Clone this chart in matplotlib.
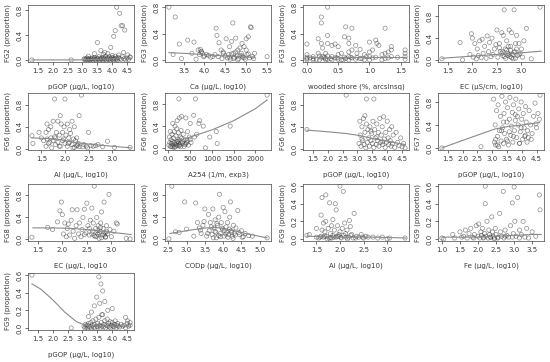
import numpy as np
import matplotlib.pyplot as plt

# ---- panel data ----
x1 = [1.30, 2.62,
      3.05, 3.08, 3.10, 3.12, 3.15, 3.18, 3.20, 3.22, 3.25, 3.28,
      3.30, 3.33, 3.35, 3.38, 3.40, 3.42, 3.45, 3.48, 3.50, 3.52,
      3.55, 3.58, 3.60, 3.63, 3.65, 3.68, 3.70, 3.72, 3.75, 3.78,
      3.80, 3.83, 3.85, 3.88, 3.90, 3.93, 3.95, 3.98, 4.00, 4.03,
      4.05, 4.08, 4.10, 4.13, 4.15, 4.18, 4.20, 4.25, 4.30, 4.35,
      4.40, 4.45, 4.50, 4.55, 4.60,
      3.50, 3.62, 3.75, 3.95, 4.05, 4.10, 4.15, 4.25, 4.30, 4.35,
      4.42, 3.85, 4.22, 4.38, 4.52, 4.60, 3.70, 4.00, 3.40, 3.20]
y1 = [0.00, 0.00,
      0.01, 0.02, 0.00, 0.01, 0.03, 0.00, 0.02, 0.01, 0.00, 0.02,
      0.01, 0.03, 0.00, 0.02, 0.04, 0.01, 0.00, 0.03, 0.02, 0.01,
      0.05, 0.00, 0.02, 0.01, 0.03, 0.00, 0.04, 0.02, 0.01, 0.06,
      0.00, 0.02, 0.03, 0.01, 0.05, 0.00, 0.02, 0.04, 0.01, 0.03,
      0.00, 0.02, 0.06, 0.01, 0.03, 0.00, 0.04, 0.02, 0.01, 0.05,
      0.02, 0.00, 0.03, 0.01, 0.04,
      0.28, 0.15, 0.12, 0.20, 0.38, 0.47, 0.85, 0.75, 0.55, 0.55,
      0.48, 0.10, 0.08, 0.12, 0.08, 0.05, 0.09, 0.07, 0.10, 0.06]
fit1_x = [1.3, 2.0, 3.0, 3.5, 4.0, 4.3, 4.6]
fit1_y = [0.0, 0.0, 0.0, 0.01, 0.02, 0.03, 0.03]

x2 = [3.15, 3.30, 3.25, 3.40, 3.45, 3.60, 3.75, 3.70, 3.80, 3.85,
      3.90, 3.92, 3.95, 3.98, 4.00, 4.05, 4.10, 4.15, 4.20, 4.25,
      4.28, 4.30, 4.33, 4.35, 4.40, 4.42, 4.45, 4.50, 4.52, 4.55,
      4.58, 4.60, 4.62, 4.65, 4.68, 4.70, 4.72, 4.75, 4.78, 4.80,
      4.82, 4.85, 4.88, 4.90, 4.92, 4.95, 4.98, 5.00, 5.02, 5.05,
      5.08, 5.10, 5.12, 5.15, 5.18, 5.20, 5.50, 4.75, 4.85, 4.95,
      5.00, 5.05, 4.60, 4.70, 4.80, 4.90, 3.88, 3.93, 4.45, 4.65]
y2 = [0.80, 0.65, 0.08, 0.24, 0.02, 0.30, 0.27, 0.10, 0.01, 0.15,
      0.16, 0.12, 0.10, 0.05, 0.06, 0.08, 0.07, 0.04, 0.05, 0.08,
      0.48, 0.37, 0.05, 0.26, 0.15, 0.02, 0.10, 0.06, 0.32, 0.03,
      0.08, 0.20, 0.01, 0.28, 0.56, 0.10, 0.04, 0.33, 0.06, 0.15,
      0.02, 0.07, 0.10, 0.25, 0.04, 0.20, 0.01, 0.32, 0.08, 0.35,
      0.03, 0.50, 0.49, 0.05, 0.02, 0.10, 0.05, 0.12, 0.18, 0.03,
      0.15, 0.09, 0.04, 0.02, 0.00, 0.06, 0.08, 0.13, 0.12, 0.09]
fit2_x = [3.15, 3.5, 4.0, 4.5, 5.0, 5.2]
fit2_y = [0.11, 0.10, 0.08, 0.06, 0.04, 0.04]

x3 = [0.00, 0.00, 0.00, 0.00, 0.00, 0.10, 0.10, 0.10, 0.18, 0.18,
      0.20, 0.20, 0.23, 0.23, 0.23, 0.23, 0.25, 0.25, 0.30, 0.30,
      0.30, 0.33, 0.33, 0.33, 0.33, 0.33, 0.40, 0.40, 0.40, 0.45,
      0.45, 0.50, 0.50, 0.50, 0.55, 0.55, 0.60, 0.60, 0.62, 0.62,
      0.67, 0.67, 0.67, 0.67, 0.67, 0.72, 0.72, 0.72, 0.78, 0.78,
      0.80, 0.80, 0.85, 0.85, 0.92, 0.92, 0.95, 1.00, 1.00, 1.00,
      1.00, 1.05, 1.05, 1.10, 1.10, 1.12, 1.15, 1.20, 1.20, 1.25,
      1.25, 1.25, 1.30, 1.30, 1.35, 1.35, 1.35, 1.45, 1.57, 1.57,
      1.57, 1.57, 0.05, 0.15, 0.28, 0.38, 0.48, 0.58, 0.70, 0.88]
y3 = [0.24, 0.08, 0.04, 0.02, 0.00, 0.05, 0.02, 0.00, 0.32, 0.10,
      0.06, 0.00, 0.65, 0.56, 0.25, 0.03, 0.18, 0.05, 0.10, 0.02,
      0.00, 0.80, 0.37, 0.25, 0.06, 0.01, 0.22, 0.05, 0.00, 0.24,
      0.03, 0.20, 0.08, 0.01, 0.10, 0.00, 0.35, 0.04, 0.50, 0.02,
      0.33, 0.25, 0.12, 0.05, 0.00, 0.48, 0.15, 0.03, 0.22, 0.01,
      0.10, 0.04, 0.16, 0.02, 0.08, 0.00, 0.05, 0.27, 0.12, 0.05,
      0.00, 0.15, 0.03, 0.30, 0.04, 0.25, 0.22, 0.08, 0.00, 0.48,
      0.10, 0.02, 0.12, 0.03, 0.20, 0.15, 0.05, 0.04, 0.15, 0.10,
      0.05, 0.01, 0.03, 0.01, 0.04, 0.02, 0.03, 0.00, 0.04, 0.02]
fit3_x = [0.0, 0.5, 1.0, 1.57]
fit3_y = [0.05, 0.05, 0.05, 0.05]

x4 = [1.38, 1.75, 1.80, 1.95, 1.98, 2.00, 2.02, 2.05, 2.08, 2.10,
      2.12, 2.15, 2.18, 2.20, 2.22, 2.25, 2.28, 2.30, 2.33, 2.35,
      2.38, 2.40, 2.42, 2.45, 2.48, 2.50, 2.52, 2.55, 2.57, 2.60,
      2.62, 2.63, 2.65, 2.67, 2.68, 2.70, 2.72, 2.73, 2.75, 2.77,
      2.78, 2.80, 2.82, 2.83, 2.85, 2.87, 2.88, 2.90, 2.92, 2.95,
      2.97, 3.00, 3.02, 3.05, 3.10, 3.20, 3.38, 2.60, 2.65, 2.70,
      2.75, 2.80, 2.85, 2.90, 2.55, 2.62, 2.72, 2.78, 2.88, 2.95]
y4 = [0.02, 0.32, 0.00, 0.10, 0.48, 0.40, 0.05, 0.30, 0.02, 0.20,
      0.08, 0.35, 0.04, 0.38, 0.12, 0.25, 0.03, 0.44, 0.15, 0.32,
      0.06, 0.40, 0.10, 0.20, 0.28, 0.55, 0.05, 0.30, 0.15, 0.50,
      0.08, 0.45, 0.92, 0.20, 0.03, 0.35, 0.12, 0.25, 0.55, 0.06,
      0.18, 0.50, 0.10, 0.02, 0.92, 0.15, 0.30, 0.45, 0.08, 0.30,
      0.12, 0.20, 0.05, 0.35, 0.58, 0.02, 0.97, 0.12, 0.06, 0.18,
      0.10, 0.04, 0.14, 0.20, 0.22, 0.15, 0.08, 0.25, 0.03, 0.10]
fit4_x = [1.38, 2.0, 2.5, 3.0, 3.4]
fit4_y = [0.03, 0.07, 0.10, 0.13, 0.16]

x5 = [1.30, 1.32, 1.45, 1.50, 1.55, 1.60, 1.60, 1.62, 1.62, 1.65,
      1.65, 1.70, 1.70, 1.72, 1.75, 1.75, 1.78, 1.80, 1.80, 1.82,
      1.85, 1.85, 1.88, 1.90, 1.90, 1.92, 1.95, 1.95, 1.98, 2.00,
      2.00, 2.02, 2.05, 2.05, 2.08, 2.10, 2.10, 2.12, 2.15, 2.15,
      2.18, 2.20, 2.20, 2.22, 2.25, 2.25, 2.28, 2.30, 2.30, 2.35,
      2.40, 2.45, 2.50, 2.55, 2.60, 2.70, 2.80, 2.90, 3.05, 3.38,
      1.68, 1.78, 1.88, 1.97, 2.07, 2.17, 2.27, 2.38, 2.48, 2.65]
y5 = [0.24, 0.10, 0.30, 0.20, 0.15, 0.30, 0.05, 0.45, 0.18, 0.35,
      0.10, 0.40, 0.20, 0.02, 0.50, 0.15, 0.90, 0.20, 0.08, 0.30,
      0.50, 0.12, 0.25, 0.60, 0.05, 0.45, 0.30, 0.15, 0.40, 0.90,
      0.10, 0.25, 0.45, 0.05, 0.20, 0.35, 0.12, 0.28, 0.50, 0.08,
      0.18, 0.40, 0.03, 0.15, 0.20, 0.06, 0.10, 0.60, 0.04, 0.97,
      0.08, 0.05, 0.30, 0.06, 0.05, 0.08, 0.04, 0.14, 0.03, 0.03,
      0.12, 0.22, 0.05, 0.18, 0.10, 0.02, 0.07, 0.04, 0.02, 0.06]
fit5_x = [1.3, 1.6, 1.9, 2.2, 2.6, 3.0, 3.4]
fit5_y = [0.20, 0.19, 0.17, 0.12, 0.08, 0.05, 0.02]

x6 = [10, 20, 30, 40, 50, 60, 70, 80, 90, 100,
      110, 120, 130, 140, 150, 160, 170, 180, 190, 200,
      210, 220, 230, 240, 250, 260, 270, 280, 290, 300,
      320, 340, 360, 380, 400, 420, 440, 460, 480, 500,
      100, 150, 200, 250, 300, 400, 500, 580, 600, 620,
      700, 720, 800, 850, 950, 1100, 1120, 1420, 2270, 240,
      60, 130, 180, 230, 280, 330, 380, 430, 520, 650]
y6 = [0.05, 0.20, 0.10, 0.30, 0.02, 0.15, 0.08, 0.25, 0.12, 0.45,
      0.05, 0.18, 0.30, 0.10, 0.40, 0.02, 0.22, 0.08, 0.35, 0.50,
      0.12, 0.04, 0.28, 0.15, 0.55, 0.06, 0.20, 0.10, 0.32, 0.58,
      0.08, 0.25, 0.03, 0.15, 0.55, 0.10, 0.30, 0.05, 0.20, 0.45,
      0.02, 0.07, 0.12, 0.04, 0.18, 0.08, 0.15, 0.60, 0.20, 0.90,
      0.45, 0.50, 0.40, 0.00, 0.20, 0.30, 0.08, 0.40, 0.97, 0.90,
      0.03, 0.01, 0.05, 0.09, 0.02, 0.11, 0.06, 0.13, 0.10, 0.25]
fit6_x = [20, 500, 1000, 1500, 2000, 2270]
fit6_y = [0.08, 0.20, 0.33, 0.50, 0.72, 0.88]

x7 = [1.30, 2.62, 3.30, 3.55,
      3.05, 3.08, 3.10, 3.12, 3.15, 3.18, 3.20, 3.22, 3.25, 3.28,
      3.30, 3.33, 3.35, 3.38, 3.40, 3.42, 3.45, 3.48, 3.50, 3.52,
      3.55, 3.58, 3.60, 3.63, 3.65, 3.68, 3.70, 3.72, 3.75, 3.78,
      3.80, 3.83, 3.85, 3.88, 3.90, 3.93, 3.95, 3.98, 4.00, 4.03,
      4.05, 4.08, 4.10, 4.13, 4.15, 4.18, 4.20, 4.25, 4.30, 4.35,
      4.40, 4.45, 4.50, 4.55, 4.60, 3.15, 3.25, 3.45, 3.65, 3.85]
y7 = [0.35, 0.97, 0.90, 0.90,
      0.10, 0.50, 0.25, 0.05, 0.40, 0.15, 0.55, 0.08, 0.30, 0.02,
      0.45, 0.12, 0.35, 0.20, 0.05, 0.40, 0.15, 0.28, 0.10, 0.50,
      0.03, 0.35, 0.20, 0.08, 0.45, 0.15, 0.30, 0.05, 0.55, 0.12,
      0.25, 0.40, 0.08, 0.58, 0.18, 0.03, 0.30, 0.12, 0.50, 0.20,
      0.08, 0.35, 0.15, 0.05, 0.40, 0.10, 0.25, 0.03, 0.30, 0.12,
      0.06, 0.20, 0.04, 0.10, 0.02, 0.18, 0.60, 0.32, 0.22, 0.13]
fit7_x = [1.3, 2.0, 2.6, 3.1, 3.5, 4.0, 4.6]
fit7_y = [0.34, 0.31, 0.28, 0.24, 0.19, 0.14, 0.08]

x8 = [1.30, 2.62,
      3.05, 3.08, 3.10, 3.12, 3.15, 3.18, 3.20, 3.22, 3.25, 3.28,
      3.30, 3.33, 3.35, 3.38, 3.40, 3.42, 3.45, 3.48, 3.50, 3.52,
      3.55, 3.58, 3.60, 3.63, 3.65, 3.68, 3.70, 3.72, 3.75, 3.78,
      3.80, 3.83, 3.85, 3.88, 3.90, 3.93, 3.95, 3.98, 4.00, 4.03,
      4.05, 4.08, 4.10, 4.13, 4.15, 4.18, 4.20, 4.25, 4.30, 4.35,
      4.40, 4.45, 4.50, 4.55, 4.60, 3.12, 3.32, 3.52, 3.72, 3.92,
      4.12, 4.32, 3.18, 3.38, 3.58, 3.78, 3.98, 4.22, 4.48, 4.62]
y8 = [0.00, 0.02,
      0.85, 0.10, 0.40, 0.05, 0.65, 0.20, 0.75, 0.02, 0.30, 0.55,
      0.12, 0.90, 0.35, 0.08, 0.60, 0.25, 0.80, 0.15, 0.45, 0.70,
      0.05, 0.50, 0.88, 0.22, 0.38, 0.62, 0.10, 0.75, 0.30, 0.48,
      0.85, 0.18, 0.55, 0.40, 0.68, 0.08, 0.28, 0.80, 0.50, 0.15,
      0.60, 0.35, 0.20, 0.72, 0.45, 0.10, 0.30, 0.65, 0.40, 0.25,
      0.55, 0.78, 0.35, 0.60, 0.50, 0.15, 0.30, 0.12, 0.20, 0.08,
      0.22, 0.15, 0.05, 0.45, 0.28, 0.58, 0.35, 0.18, 0.42, 0.92]
fit8_x = [1.3, 2.0, 2.6, 3.1, 3.5, 4.0, 4.6]
fit8_y = [0.0, 0.13, 0.24, 0.33, 0.37, 0.40, 0.44]

x9 = [1.38, 1.70, 1.80, 1.90, 1.95, 1.98, 2.00, 2.02, 2.05, 2.08,
      2.10, 2.12, 2.15, 2.18, 2.20, 2.22, 2.25, 2.28, 2.30, 2.33,
      2.35, 2.38, 2.40, 2.42, 2.45, 2.48, 2.50, 2.52, 2.55, 2.57,
      2.60, 2.62, 2.63, 2.65, 2.67, 2.68, 2.70, 2.72, 2.73, 2.75,
      2.77, 2.78, 2.80, 2.82, 2.83, 2.85, 2.87, 2.88, 2.90, 2.92,
      2.95, 2.97, 3.00, 3.05, 3.10, 3.12, 3.30, 3.38, 2.60, 2.70,
      2.75, 2.80, 2.85, 2.90, 2.55, 2.65, 2.72, 2.78, 2.88, 2.45]
y9 = [0.04, 0.22, 0.18, 0.32, 0.52, 0.68, 0.45, 0.10, 0.30, 0.05,
      0.20, 0.28, 0.08, 0.35, 0.54, 0.15, 0.02, 0.25, 0.54, 0.10,
      0.30, 0.05, 0.18, 0.40, 0.55, 0.12, 0.66, 0.25, 0.08, 0.35,
      0.57, 0.15, 0.30, 0.97, 0.05, 0.20, 0.40, 0.10, 0.25, 0.02,
      0.15, 0.30, 0.50, 0.08, 0.20, 0.68, 0.12, 0.04, 0.25, 0.10,
      0.82, 0.18, 0.05, 0.15, 0.30, 0.28, 0.02, 0.01, 0.10, 0.06,
      0.12, 0.03, 0.08, 0.14, 0.20, 0.07, 0.16, 0.22, 0.05, 0.09]
fit9_x = [1.4, 1.8, 2.2, 2.5, 2.8, 3.1, 3.4]
fit9_y = [0.21, 0.21, 0.20, 0.18, 0.15, 0.12, 0.09]

x10 = [2.52, 2.60, 2.70, 2.80, 2.95, 3.00, 3.20, 3.25, 3.30, 3.35,
       3.40, 3.45, 3.50, 3.55, 3.60, 3.62, 3.65, 3.70, 3.72, 3.75,
       3.78, 3.80, 3.82, 3.85, 3.88, 3.90, 3.92, 3.95, 3.98, 4.00,
       4.02, 4.05, 4.08, 4.10, 4.12, 4.15, 4.18, 4.20, 4.22, 4.25,
       4.28, 4.30, 4.35, 4.40, 4.45, 4.50, 4.55, 4.60, 4.70, 4.80,
       5.20, 3.58, 3.68, 3.78, 3.88, 3.97, 4.03, 4.13, 4.23, 4.33,
       3.48, 3.93, 4.07, 4.17, 3.73, 3.83, 4.43, 4.52, 3.38, 4.27]
y10 = [0.00, 0.97, 0.13, 0.12, 0.68, 0.18, 0.05, 0.66, 0.30, 0.20,
       0.10, 0.25, 0.55, 0.05, 0.45, 0.15, 0.30, 0.08, 0.55, 0.20,
       0.35, 0.12, 0.02, 0.25, 0.40, 0.82, 0.10, 0.30, 0.18, 0.58,
       0.05, 0.50, 0.22, 0.12, 0.30, 0.08, 0.40, 0.68, 0.15, 0.05,
       0.25, 0.10, 0.20, 0.52, 0.08, 0.15, 0.04, 0.10, 0.06, 0.05,
       0.02, 0.10, 0.22, 0.14, 0.06, 0.20, 0.15, 0.03, 0.12, 0.07,
       0.32, 0.04, 0.09, 0.18, 0.02, 0.28, 0.12, 0.03, 0.16, 0.01]
fit10_x = [2.55, 3.0, 3.5, 3.8, 4.2, 4.6, 5.2]
fit10_y = [0.10, 0.15, 0.20, 0.21, 0.17, 0.10, 0.02]

x11 = [1.30, 1.35, 1.50, 1.50, 1.55, 1.60, 1.60, 1.62, 1.62, 1.65,
       1.65, 1.68, 1.70, 1.70, 1.72, 1.75, 1.78, 1.80, 1.80, 1.82,
       1.85, 1.85, 1.88, 1.90, 1.92, 1.92, 1.95, 1.98, 2.00, 2.00,
       2.02, 2.05, 2.07, 2.08, 2.10, 2.12, 2.15, 2.18, 2.20, 2.22,
       2.25, 2.28, 2.30, 2.35, 2.40, 2.45, 2.50, 2.55, 2.60, 2.70,
       2.80, 2.85, 2.90, 3.00, 3.05, 3.38, 1.58, 1.68, 1.77, 1.87,
       1.97, 2.03, 2.13, 2.23, 2.33, 2.48, 1.73, 1.83, 1.94, 2.16]
y11 = [0.04, 0.05, 0.12, 0.02, 0.01, 0.27, 0.03, 0.47, 0.10, 0.18,
       0.02, 0.08, 0.50, 0.20, 0.03, 0.12, 0.41, 0.06, 0.01, 0.15,
       0.22, 0.04, 0.10, 0.40, 0.33, 0.02, 0.15, 0.05, 0.60, 0.08,
       0.02, 0.12, 0.54, 0.04, 0.18, 0.06, 0.10, 0.02, 0.21, 0.14,
       0.05, 0.01, 0.29, 0.03, 0.02, 0.05, 0.01, 0.03, 0.02, 0.02,
       0.01, 0.59, 0.02, 0.00, 0.01, 0.01, 0.02, 0.03, 0.01, 0.02,
       0.03, 0.01, 0.02, 0.04, 0.01, 0.02, 0.00, 0.01, 0.03, 0.00]
fit11_x = [1.3, 2.0, 2.7, 3.4]
fit11_y = [0.03, 0.02, 0.02, 0.01]

x12 = [1.00, 1.05, 1.30, 1.35, 1.50, 1.55, 1.60, 1.65, 1.70, 1.75,
       1.80, 1.85, 1.90, 1.95, 2.00, 2.02, 2.05, 2.08, 2.10, 2.12,
       2.15, 2.18, 2.20, 2.20, 2.22, 2.25, 2.28, 2.30, 2.32, 2.35,
       2.38, 2.40, 2.42, 2.45, 2.48, 2.50, 2.55, 2.60, 2.62, 2.65,
       2.70, 2.72, 2.75, 2.80, 2.85, 2.90, 2.95, 2.98, 3.00, 3.02,
       3.05, 3.10, 3.15, 3.20, 3.25, 3.30, 3.35, 3.40, 3.50, 3.60,
       3.70, 3.72, 2.15, 2.35, 2.55, 2.75, 2.95, 3.15, 1.88, 2.45]
y12 = [0.01, 0.00, 0.05, 0.01, 0.08, 0.02, 0.03, 0.10, 0.01, 0.06,
       0.12, 0.02, 0.05, 0.15, 0.03, 0.17, 0.01, 0.08, 0.04, 0.12,
       0.02, 0.06, 0.60, 0.40, 0.03, 0.20, 0.01, 0.10, 0.05, 0.02,
       0.25, 0.08, 0.03, 0.01, 0.12, 0.05, 0.02, 0.29, 0.08, 0.03,
       0.54, 0.01, 0.10, 0.04, 0.02, 0.15, 0.41, 0.06, 0.59, 0.20,
       0.03, 0.47, 0.10, 0.05, 0.20, 0.02, 0.12, 0.01, 0.08, 0.03,
       0.50, 0.33, 0.01, 0.02, 0.01, 0.03, 0.02, 0.01, 0.01, 0.00]
fit12_x = [1.0, 1.5, 2.0, 2.5, 3.0, 3.5, 3.75]
fit12_y = [0.02, 0.02, 0.02, 0.03, 0.04, 0.05, 0.05]

x13 = [1.30, 2.62,
       3.05, 3.08, 3.10, 3.12, 3.15, 3.18, 3.20, 3.22, 3.25, 3.28,
       3.30, 3.33, 3.35, 3.38, 3.40, 3.42, 3.45, 3.48, 3.50, 3.52,
       3.55, 3.58, 3.60, 3.63, 3.65, 3.68, 3.70, 3.72, 3.75, 3.78,
       3.80, 3.83, 3.85, 3.88, 3.90, 3.93, 3.95, 3.98, 4.00, 4.03,
       4.05, 4.08, 4.10, 4.13, 4.15, 4.18, 4.20, 4.25, 4.30, 4.35,
       4.40, 4.45, 4.50, 4.55, 4.60, 3.55, 3.62, 3.68, 3.48, 3.75,
       3.40, 3.85, 3.30, 4.00, 3.58, 3.65, 4.45, 4.52, 4.60, 3.20]
y13 = [0.60, 0.00,
       0.02, 0.00, 0.04, 0.01, 0.03, 0.00, 0.05, 0.02, 0.01, 0.06,
       0.00, 0.03, 0.08, 0.01, 0.04, 0.00, 0.10, 0.02, 0.05, 0.01,
       0.12, 0.03, 0.00, 0.06, 0.02, 0.15, 0.01, 0.04, 0.08, 0.00,
       0.03, 0.10, 0.02, 0.05, 0.01, 0.07, 0.00, 0.03, 0.06, 0.02,
       0.01, 0.04, 0.08, 0.00, 0.03, 0.05, 0.02, 0.01, 0.04, 0.02,
       0.03, 0.00, 0.05, 0.02, 0.03, 0.58, 0.50, 0.42, 0.35, 0.30,
       0.25, 0.20, 0.18, 0.22, 0.28, 0.15, 0.12, 0.08, 0.06, 0.13]
fit13_x = [1.3, 1.6, 2.0, 2.4, 2.8, 3.1, 3.5, 4.0, 4.6]
fit13_y = [0.50, 0.44, 0.32, 0.18, 0.07, 0.03, 0.02, 0.02, 0.02]

pgop_ticks = [1.5, 2.0, 2.5, 3.0, 3.5, 4.0, 4.5]
big_yticks = [0.0, 0.4, 0.8]
small_yticks = [0.0, 0.2, 0.4, 0.6]

panels = [
    (x1, y1, fit1_x, fit1_y, "pGOP (µg/L, log10)", "FG2 (proportion)", pgop_ticks, big_yticks),
    (x2, y2, fit2_x, fit2_y, "Ca (µg/L, log10)", "FG3 (proportion)", [3.5, 4.0, 4.5, 5.0, 5.5], big_yticks),
    (x3, y3, fit3_x, fit3_y, "wooded shore (%, arcsinsq)", "FG3 (proportion)", [0.0, 0.5, 1.0, 1.5], big_yticks),
    (x4, y4, fit4_x, fit4_y, "EC (µS/cm, log10)", "FG6 (proportion)", [1.5, 2.0, 2.5, 3.0], big_yticks),
    (x5, y5, fit5_x, fit5_y, "Al (µg/L, log10)", "FG6 (proportion)", [1.5, 2.0, 2.5, 3.0], big_yticks),
    (x6, y6, fit6_x, fit6_y, "A254 (1/m, exp3)", "FG6 (proportion)", [0, 500, 1000, 1500, 2000], big_yticks),
    (x7, y7, fit7_x, fit7_y, "pGOP (µg/L, log10)", "FG6 (proportion)", pgop_ticks, big_yticks),
    (x8, y8, fit8_x, fit8_y, "pGOP (µg/L, log10)", "FG7 (proportion)", pgop_ticks, big_yticks),
    (x9, y9, fit9_x, fit9_y, "EC (µg/L, log10", "FG8 (proportion)", [1.5, 2.0, 2.5, 3.0], big_yticks),
    (x10, y10, fit10_x, fit10_y, "CODp (µg/L, log10)", "FG8 (proportion)", [2.5, 3.0, 3.5, 4.0, 4.5, 5.0], big_yticks),
    (x11, y11, fit11_x, fit11_y, "Al (µg/L, log10)", "FG9 (proportion)", [1.5, 2.0, 2.5, 3.0], small_yticks),
    (x12, y12, fit12_x, fit12_y, "Fe (µg/L, log10)", "FG9 (proportion)", [1.0, 1.5, 2.0, 2.5, 3.0, 3.5], small_yticks),
    (x13, y13, fit13_x, fit13_y, "pGOP (µg/L, log10)", "FG9 (proportion)", pgop_ticks, small_yticks),
]

W, H = 550, 362
col_left = [28, 165, 303, 438]
row_top = [5, 93, 184, 273]
box_w, box_h = 106, 57

fig = plt.figure(figsize=(W / 100, H / 100), dpi=100)
fs = 5.0
txt = "#3a3a3a"

for i, (xs, ys, fx, fy, xlab, ylab, xt, yt) in enumerate(panels):
    r, c = divmod(i, 4)
    ax = fig.add_axes([col_left[c] / W, 1 - (row_top[r] + box_h) / H, box_w / W, box_h / H])
    xs = np.array(xs)
    ys = np.array(ys)
    ax.scatter(xs, ys, s=9, facecolors="none", edgecolors=(0.25, 0.25, 0.25, 0.6), linewidths=0.5)
    ax.plot(fx, fy, color="#8a8a8a", linewidth=0.8)
    # R-like 4% padding
    xr = xs.max() - xs.min()
    ax.set_xlim(xs.min() - 0.04 * xr, xs.max() + 0.04 * xr)
    yr = ys.max() - ys.min()
    ax.set_ylim(ys.min() - 0.04 * yr, ys.max() + 0.04 * yr)
    ax.set_xticks(xt)
    ax.set_yticks(yt)
    ax.set_xticklabels([f"{v:g}" if v >= 100 else f"{v:.1f}" for v in xt])
    ax.set_yticklabels([f"{v:.1f}" for v in yt], rotation=90, va="center")
    ax.tick_params(labelsize=fs, length=2, width=0.5, pad=2, colors=txt)
    for sp in ax.spines.values():
        sp.set_linewidth(0.5)
        sp.set_color("#444444")
    ax.set_xlabel(xlab, fontsize=fs, color=txt, labelpad=7)
    ax.set_ylabel(ylab, fontsize=fs, color=txt, labelpad=4)

fig.savefig("out.png", dpi=100)
